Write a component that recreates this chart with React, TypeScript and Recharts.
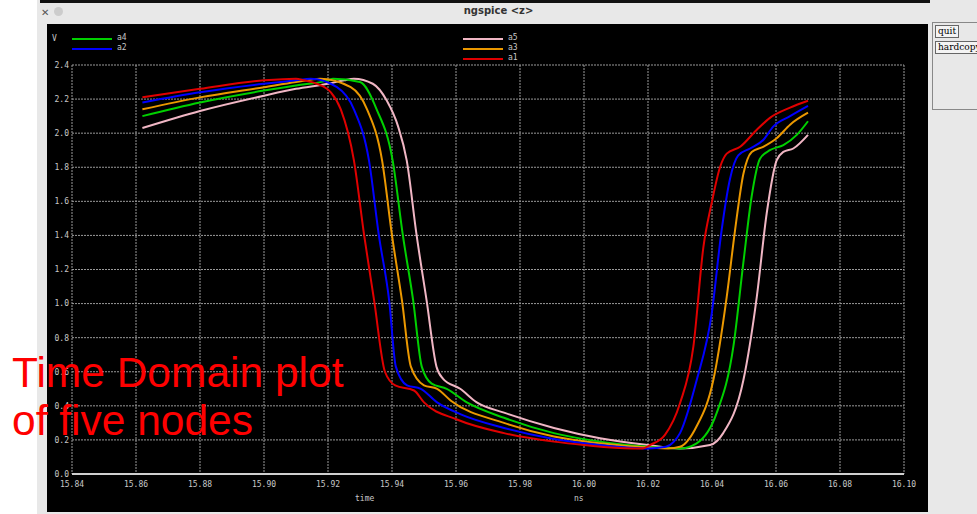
import { LineChart, Line, XAxis, YAxis, CartesianGrid } from 'recharts';

type Pt = [number, number];

// node voltages, [time in ns, volts]
const a1: Pt[] = [
    [15.862, 2.21], [15.88, 2.26], [15.9, 2.31], [15.91, 2.32], [15.9125, 2.31], [15.9165, 2.29],
    [15.9209, 2.24], [15.924, 2.14], [15.9281, 1.84], [15.9313, 1.4], [15.9344, 1.02], [15.9378, 0.6],
    [15.941, 0.52], [15.9469, 0.49], [15.95, 0.42], [15.9603, 0.32], [15.975, 0.24], [15.9906, 0.19],
    [16.0, 0.17], [16.015, 0.15], [16.0184, 0.15], [16.0206, 0.17], [16.0253, 0.23], [16.03, 0.415],
    [16.0342, 0.75], [16.0373, 1.33], [16.0399, 1.59], [16.0425, 1.8], [16.0446, 1.88], [16.0488, 1.92],
    [16.054, 2.02], [16.0581, 2.09], [16.0644, 2.15], [16.07, 2.19],
];
const a2: Pt[] = [
    [15.862, 2.18], [15.88, 2.24], [15.9, 2.29], [15.91, 2.31], [15.9146, 2.32], [15.9228, 2.27],
    [15.9281, 2.14], [15.9328, 1.84], [15.9359, 1.4], [15.9391, 1.02], [15.9412, 0.63], [15.9447, 0.52],
    [15.949, 0.5], [15.9541, 0.42], [15.9615, 0.35], [15.975, 0.27], [15.9906, 0.205], [16.005, 0.17],
    [16.02, 0.15], [16.0256, 0.16], [16.0281, 0.19], [16.03, 0.24], [16.0352, 0.55], [16.0399, 0.94],
    [16.043, 1.43], [16.0456, 1.73], [16.0482, 1.87], [16.0519, 1.91], [16.056, 1.96], [16.0592, 2.04],
    [16.0644, 2.1], [16.07, 2.16],
];
const a3: Pt[] = [
    [15.862, 2.14], [15.88, 2.21], [15.9, 2.27], [15.91, 2.3], [15.9175, 2.32], [15.9271, 2.27],
    [15.9322, 2.14], [15.9369, 1.84], [15.94, 1.4], [15.9431, 1.02], [15.9459, 0.63], [15.95, 0.52],
    [15.9541, 0.5], [15.9584, 0.43], [15.975, 0.3], [15.9906, 0.22], [16.005, 0.18], [16.02, 0.155],
    [16.0263, 0.15], [16.03, 0.16], [16.0352, 0.28], [16.0404, 0.55], [16.0446, 1.04], [16.0472, 1.43],
    [16.0498, 1.76], [16.0524, 1.89], [16.056, 1.92], [16.0602, 1.97], [16.0644, 2.05], [16.07, 2.12],
];
const a4: Pt[] = [
    [15.862, 2.1], [15.88, 2.18], [15.9, 2.25], [15.91, 2.28], [15.92, 2.31], [15.9216, 2.32],
    [15.93, 2.3], [15.9352, 2.14], [15.9402, 1.84], [15.9434, 1.4], [15.9466, 1.02], [15.9493, 0.63],
    [15.9524, 0.53], [15.9571, 0.5], [15.9634, 0.42], [15.975, 0.33], [15.9906, 0.24], [16.005, 0.19],
    [16.02, 0.16], [16.03, 0.15], [16.0352, 0.18], [16.0415, 0.36], [16.0467, 0.75], [16.0498, 1.24],
    [16.0524, 1.63], [16.055, 1.85], [16.0581, 1.9], [16.0623, 1.93], [16.0665, 1.99], [16.07, 2.07],
];
const a5: Pt[] = [
    [15.862, 2.03], [15.88, 2.13], [15.9, 2.22], [15.91, 2.26], [15.92, 2.29], [15.925, 2.31],
    [15.9281, 2.32], [15.934, 2.29], [15.9384, 2.19], [15.9419, 2.04], [15.9446, 1.84], [15.9477, 1.4],
    [15.9508, 1.02], [15.9539, 0.63], [15.9559, 0.56], [15.9613, 0.5], [15.9665, 0.42], [15.975, 0.36],
    [15.9906, 0.27], [16.005, 0.21], [16.02, 0.17], [16.03, 0.15], [16.0394, 0.17], [16.0435, 0.24],
    [16.0498, 0.55], [16.054, 1.04], [16.0571, 1.53], [16.0602, 1.84], [16.0623, 1.89], [16.0654, 1.91],
    [16.07, 1.99],
];

const xTicks = [15.84, 15.86, 15.88, 15.9, 15.92, 15.94, 15.96, 15.98, 16.0, 16.02, 16.04, 16.06, 16.08, 16.1];
const yTicks = [0, 0.2, 0.4, 0.6, 0.8, 1.0, 1.2, 1.4, 1.6, 1.8, 2.0, 2.2, 2.4];

const series = [
    { name: 'a5', color: '#f0b6c4', data: a5 },
    { name: 'a4', color: '#00d000', data: a4 },
    { name: 'a3', color: '#eb9800', data: a3 },
    { name: 'a2', color: '#0000ff', data: a2 },
    { name: 'a1', color: '#e00000', data: a1 },
];

const mono = '"DejaVu Sans Mono", monospace';
const tickStyle = { fontSize: 8, fill: '#c8c8c8', fontFamily: mono };

const toRows = (pts: Pt[]) => pts.map(([t, v]) => ({ t, v }));

function LegendItem({ x, y, color, label }: { x: number; y: number; color: string; label: string }) {
    return (
        <>
            <div style={{ position: 'absolute', left: x, top: y - 1, width: 40, height: 2, background: color }} />
            <div style={{ position: 'absolute', left: x + 45, top: y - 6, fontSize: 8, color: '#c8c8c8', fontFamily: mono }}>{label}</div>
        </>
    );
}

export default function App() {
    return (
        <div style={{ position: 'absolute', left: 0, top: 0, width: 977, height: 514, background: '#fff', overflow: 'hidden' }}>
            {/* window frame */}
            <div style={{ position: 'absolute', left: 37, top: 0, width: 940, height: 514, background: '#e8e8e8' }} />
            <div style={{ position: 'absolute', left: 40, top: 0, width: 890, height: 3, background: '#111' }} />
            <div style={{ position: 'absolute', left: 0, top: 5, width: 977, textAlign: 'center', fontSize: 10, fontWeight: 'bold', color: '#333', fontFamily: '"DejaVu Sans", sans-serif', paddingLeft: 10 }}>
                ngspice &lt;z&gt;
            </div>
            <div style={{ position: 'absolute', left: 41, top: 7, fontSize: 10, color: '#555', fontFamily: '"DejaVu Sans", sans-serif' }}>✕</div>
            <div style={{ position: 'absolute', left: 54, top: 7, width: 9, height: 9, borderRadius: 5, background: '#ccc' }} />
            <div style={{ position: 'absolute', left: 47, top: 24, width: 881, height: 488, background: '#000' }} />

            {/* side panel */}
            <div style={{ position: 'absolute', left: 932, top: 22, width: 50, height: 86, border: '1px solid #888' }} />
            <div style={{ position: 'absolute', left: 935, top: 25, padding: '0 2px', border: '1px solid #666', background: '#f4f4f4', fontSize: 9, lineHeight: '11px', fontFamily: '"DejaVu Serif", serif' }}>quit</div>
            <div style={{ position: 'absolute', left: 935, top: 41, padding: '0 2px', border: '1px solid #666', background: '#f4f4f4', fontSize: 9, lineHeight: '11px', fontFamily: '"DejaVu Serif", serif', whiteSpace: 'nowrap' }}>hardcopy</div>

            {/* legend */}
            <div style={{ position: 'absolute', left: 52, top: 34, fontSize: 8, color: '#c8c8c8', fontFamily: mono }}>V</div>
            <LegendItem x={72} y={39} color="#00d000" label="a4" />
            <LegendItem x={72} y={49} color="#0000ff" label="a2" />
            <LegendItem x={463} y={39} color="#f0b6c4" label="a5" />
            <LegendItem x={463} y={49} color="#eb9800" label="a3" />
            <LegendItem x={463} y={59} color="#e00000" label="a1" />

            <div style={{ position: 'absolute', left: 0, top: 0 }}>
                <LineChart width={977} height={514} margin={{ top: 65, right: 73, bottom: 0, left: 46 }}>
                    <CartesianGrid stroke="#9a9a9a" strokeDasharray="2 1" />
                    <XAxis
                        type="number"
                        dataKey="t"
                        domain={[15.84, 16.1]}
                        ticks={xTicks}
                        allowDataOverflow
                        height={40}
                        tickSize={0}
                        tickMargin={7}
                        tick={tickStyle}
                        tickFormatter={(v: number) => v.toFixed(2)}
                        axisLine={{ stroke: '#cfcfcf', strokeWidth: 2 }}
                        tickLine={false}
                    />
                    <YAxis
                        type="number"
                        domain={[0, 2.4]}
                        ticks={yTicks}
                        width={26}
                        tickSize={0}
                        tickMargin={3}
                        tick={tickStyle}
                        tickFormatter={(v: number) => v.toFixed(1)}
                        axisLine={false}
                        tickLine={false}
                    />
                    {series.map((s) => (
                        <Line
                            key={s.name}
                            data={toRows(s.data)}
                            dataKey="v"
                            name={s.name}
                            type="monotone"
                            stroke={s.color}
                            strokeWidth={2}
                            dot={false}
                            isAnimationActive={false}
                        />
                    ))}
                </LineChart>
            </div>

            {/* axis titles */}
            <div style={{ position: 'absolute', left: 355, top: 494, fontSize: 8, color: '#c8c8c8', fontFamily: mono }}>time</div>
            <div style={{ position: 'absolute', left: 574, top: 494, fontSize: 8, color: '#c8c8c8', fontFamily: mono }}>ns</div>

            {/* annotation */}
            <div style={{ position: 'absolute', left: 12, top: 349, color: '#ff0000', fontSize: 42.5, lineHeight: '48px', fontFamily: '"Liberation Sans", Arial, sans-serif', whiteSpace: 'nowrap' }}>
                Time Domain plot
                <br />
                of five nodes
            </div>
        </div>
    );
}
